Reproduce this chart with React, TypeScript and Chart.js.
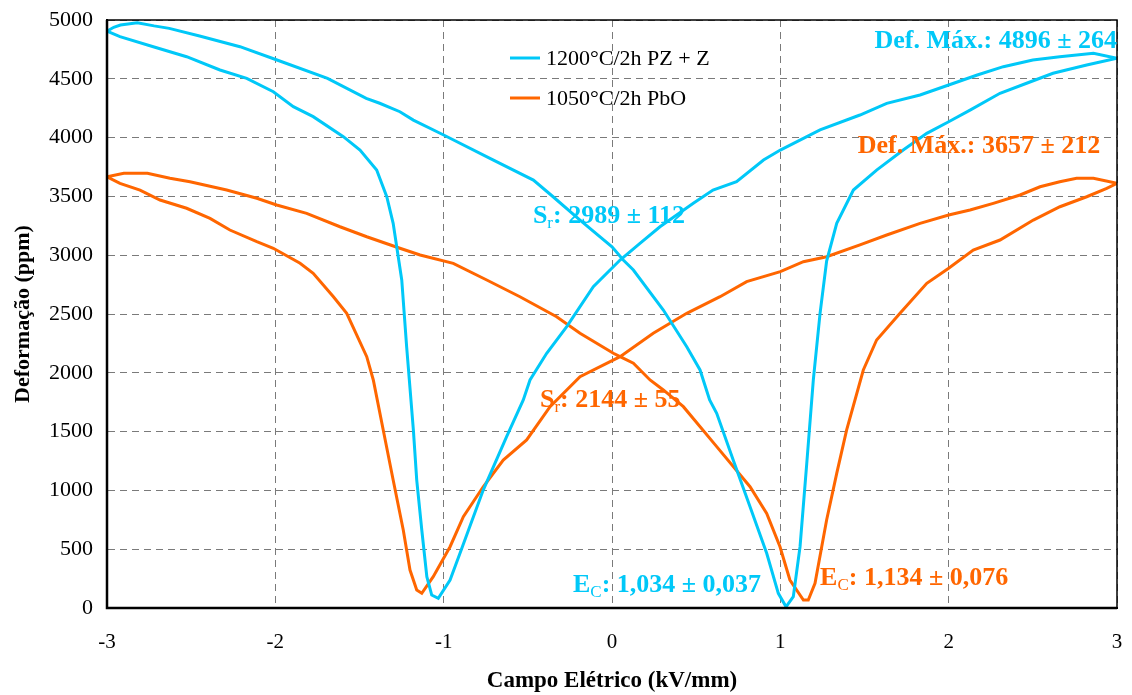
import React, { useEffect, useRef } from 'react';
import { Chart, registerables } from 'chart.js';

Chart.register(...registerables);

const seriesLabels = ['1200°C/2h PZ + Z', '1050°C/2h PbO'];

// 1200°C/2h PZ + Z butterfly loop (E in kV/mm, strain in ppm)
const blueE = [
  -3.0, -2.96, -2.92, -2.82, -2.72, -2.63, -2.45, -2.21, -1.99, -1.69, -1.46, -1.38, -1.26, -1.18, -1.0,
  -0.725, -0.467, -0.35, -0.19, 0.0, 0.067, 0.127, 0.305, 0.444, 0.523, 0.58, 0.622, 0.72, 0.82, 0.919,
  0.988, 1.034, 1.077, 1.117, 1.157, 1.196, 1.236, 1.275, 1.335, 1.434, 1.572, 1.73, 1.87, 2.0, 2.127,
  2.305, 2.463, 2.62, 2.82, 3.0,
  2.86, 2.66, 2.5, 2.325, 2.17, 2.0, 1.83, 1.632, 1.473, 1.236, 1.0, 0.9, 0.74, 0.6, 0.483, 0.285, 0.166,
  0.048, -0.111, -0.269, -0.388, -0.487, -0.527, -0.626, -0.765, -0.903, -0.962, -1.032, -1.071, -1.1,
  -1.13, -1.16, -1.18, -1.204, -1.22, -1.249, -1.3, -1.338, -1.398, -1.497, -1.596, -1.775, -1.893,
  -2.012, -2.17, -2.329, -2.527, -2.725, -2.923, -3.0,
];
const blueS = [
  4905, 4938, 4957, 4977, 4950, 4929, 4864, 4773, 4660, 4504, 4334, 4292, 4220, 4149, 4022,
  3824, 3639, 3497, 3299, 3072, 2959, 2874, 2534, 2222, 2024, 1769, 1655, 1258, 861, 465,
  125, 10, 96, 521, 1230, 1939, 2506, 2950, 3271, 3554, 3724, 3894, 4036, 4135, 4234,
  4377, 4462, 4547, 4617, 4674,
  4717, 4688, 4660, 4603, 4532, 4447, 4362, 4291, 4192, 4065, 3894, 3809, 3625, 3554, 3441, 3242, 3101,
  2959, 2732, 2392, 2166, 1939, 1769, 1457, 1003, 465, 238, 82, 110, 266,
  663, 1088, 1514, 1939, 2222, 2789, 3271, 3497, 3724, 3894, 4008, 4178, 4263,
  4390, 4504, 4575, 4688, 4773, 4858, 4905,
];

// 1050°C/2h PbO butterfly loop
const orangeE = [
  -3.0, -2.9, -2.76, -2.626, -2.507, -2.289, -2.11, -1.992, -1.814, -1.616, -1.457, -1.26, -1.14, -0.943,
  -0.744, -0.547, -0.329, -0.19, 0.008, 0.048, 0.127, 0.226, 0.305, 0.424, 0.622, 0.82, 0.919, 0.998,
  1.057, 1.137, 1.166, 1.206, 1.275, 1.335, 1.394, 1.493, 1.572, 1.711, 1.87, 2.0, 2.146, 2.305, 2.503,
  2.661, 2.82, 2.939, 3.0,
  2.86, 2.76, 2.66, 2.543, 2.424, 2.265, 2.127, 2.0, 1.83, 1.632, 1.473, 1.275, 1.137, 1.0, 0.8, 0.642,
  0.444, 0.245, 0.048, -0.19, -0.368, -0.507, -0.646, -0.765, -0.883, -0.962, -1.062, -1.13, -1.16, -1.2,
  -1.24, -1.3, -1.359, -1.418, -1.457, -1.576, -1.655, -1.775, -1.853, -2.012, -2.11, -2.27, -2.388,
  -2.527, -2.685, -2.804, -2.923, -3.0,
];
const orangeS = [
  3667, 3696, 3696, 3654, 3625, 3554, 3484, 3427, 3356, 3242, 3157, 3059, 3002, 2931,
  2789, 2647, 2477, 2336, 2166, 2137, 2081, 1939, 1854, 1712, 1372, 1031, 805, 521,
  238, 68, 68, 210, 748, 1145, 1514, 2024, 2279, 2506, 2761, 2889, 3044, 3129, 3299,
  3412, 3497, 3568, 3611,
  3654, 3654, 3625, 3582, 3512, 3441, 3384, 3342, 3271, 3172, 3087, 2987, 2945, 2860, 2775, 2647,
  2506, 2336, 2137, 1967, 1712, 1429, 1258, 1031, 776, 521, 266, 125, 153, 323,
  663, 1088, 1514, 1939, 2137, 2506, 2647, 2846, 2931, 3059, 3115, 3214, 3313,
  3399, 3469, 3554, 3611, 3667,
];

const BLUE = '#00c8f8';
const ORANGE = '#ff6600';
const SERIF = '"Liberation Serif", "Times New Roman", serif';

type Note = { main: string; sub: string; rest: string; x: number; y: number; align: 'left' | 'right'; color: string };

const notes: Note[] = [
  { main: 'Def. Máx.: 4896 ± 264', sub: '', rest: '', x: 3.0, y: 4762, align: 'right', color: BLUE },
  { main: 'Def. Máx.: 3657 ± 212', sub: '', rest: '', x: 2.9, y: 3869, align: 'right', color: ORANGE },
  { main: 'S', sub: 'r', rest: ': 2989 ± 112', x: -0.47, y: 3274, align: 'left', color: BLUE },
  { main: 'S', sub: 'r', rest: ': 2144 ± 55', x: -0.428, y: 1709, align: 'left', color: ORANGE },
  { main: 'E', sub: 'C', rest: ': 1,034 ± 0,037', x: -0.232, y: 136, align: 'left', color: BLUE },
  { main: 'E', sub: 'C', rest: ': 1,134 ± 0,076', x: 1.236, y: 196, align: 'left', color: ORANGE },
];

const toPoints = (xs: number[], ys: number[]) => xs.map((x, i) => ({ x, y: ys[i] }));

const decorPlugin = {
  id: 'decor',
  afterDatasetsDraw(chart: any) {
    const { ctx, chartArea, scales } = chart;
    const xs = scales.x;
    const ys = scales.y;
    ctx.save();
    // frame
    ctx.strokeStyle = '#000';
    ctx.lineWidth = 1.5;
    ctx.strokeRect(chartArea.left, chartArea.top, chartArea.right - chartArea.left, chartArea.bottom - chartArea.top);
    ctx.lineWidth = 2.5;
    ctx.beginPath();
    ctx.moveTo(chartArea.left, chartArea.top);
    ctx.lineTo(chartArea.left, chartArea.bottom);
    ctx.lineTo(chartArea.right, chartArea.bottom);
    ctx.stroke();

    // annotations
    const bigFont = `bold 26px ${SERIF}`;
    const subFont = `17px ${SERIF}`;
    ctx.textBaseline = 'alphabetic';
    notes.forEach((n) => {
      ctx.font = bigFont;
      const wMain = ctx.measureText(n.main).width;
      const wRest = ctx.measureText(n.rest).width;
      ctx.font = subFont;
      const wSub = n.sub ? ctx.measureText(n.sub).width : 0;
      const total = wMain + wSub + wRest;
      let px = xs.getPixelForValue(n.x);
      const py = ys.getPixelForValue(n.y);
      if (n.align === 'right') px -= total;
      ctx.fillStyle = n.color;
      ctx.textAlign = 'left';
      ctx.font = bigFont;
      ctx.fillText(n.main, px, py);
      if (n.sub) {
        ctx.font = subFont;
        ctx.fillText(n.sub, px + wMain, py + 5);
      }
      ctx.font = bigFont;
      ctx.fillText(n.rest, px + wMain + wSub, py);
    });

    // legend
    const colors = [BLUE, ORANGE];
    const lx = chartArea.left + 403;
    const ly0 = chartArea.top + 38;
    ctx.font = `22px ${SERIF}`;
    ctx.textBaseline = 'middle';
    seriesLabels.forEach((lab, i) => {
      const y = ly0 + i * 40;
      ctx.strokeStyle = colors[i];
      ctx.lineWidth = 3;
      ctx.beginPath();
      ctx.moveTo(lx, y);
      ctx.lineTo(lx + 30, y);
      ctx.stroke();
      ctx.fillStyle = '#000';
      ctx.fillText(lab, lx + 36, y + 1);
    });
    ctx.restore();
  },
};

export default function App() {
  const ref = useRef<HTMLCanvasElement | null>(null);
  useEffect(() => {
    document.body.style.margin = '0';
    const canvas = ref.current;
    if (!canvas) return;
    const chart = new Chart(canvas, {
      type: 'scatter',
      data: {
        datasets: [
          {
            label: seriesLabels[0],
            data: toPoints(blueE, blueS),
            showLine: true,
            borderColor: BLUE,
            backgroundColor: BLUE,
            borderWidth: 3,
            pointRadius: 0,
            tension: 0,
          },
          {
            label: seriesLabels[1],
            data: toPoints(orangeE, orangeS),
            showLine: true,
            borderColor: ORANGE,
            backgroundColor: ORANGE,
            borderWidth: 3,
            pointRadius: 0,
            tension: 0,
          },
        ],
      },
      options: {
        responsive: false,
        animation: false,
        devicePixelRatio: 1,
        layout: { padding: { top: 20, right: 15, left: 0, bottom: 0 } },
        plugins: { legend: { display: false }, tooltip: { enabled: false } },
        scales: {
          x: {
            type: 'linear',
            min: -3,
            max: 3,
            afterFit: (s: any) => { s.height = 87; s.paddingLeft = 0; s.paddingRight = 0; },
            ticks: {
              stepSize: 1,
              color: '#000',
              padding: 22,
              font: { family: SERIF, size: 21 },
              callback: (v: any) => String(v),
            },
            grid: { color: '#7a7a7a', lineWidth: 1, drawTicks: false },
            border: { display: true, color: '#000', width: 2, dash: [7, 5] },
            title: {
              display: true,
              text: 'Campo Elétrico (kV/mm)',
              color: '#000',
              font: { family: SERIF, size: 23, weight: 'bold' },
              padding: { top: -3, bottom: 0 },
            },
          },
          y: {
            type: 'linear',
            min: 0,
            max: 5000,
            afterFit: (s: any) => { s.width = 107; s.paddingTop = 0; s.paddingBottom = 0; },
            ticks: {
              stepSize: 500,
              color: '#000',
              padding: 14,
              font: { family: SERIF, size: 22 },
              callback: (v: any) => String(v),
            },
            grid: { color: '#7a7a7a', lineWidth: 1, drawTicks: false },
            border: { display: true, color: '#000', width: 2, dash: [7, 5] },
            title: {
              display: true,
              text: 'Deformação (ppm)',
              color: '#000',
              font: { family: SERIF, size: 22, weight: 'bold' },
              padding: { top: 10, bottom: 2 },
            },
          },
        },
      },
      plugins: [decorPlugin],
    } as any);
    return () => chart.destroy();
  }, []);
  return (
    <div style={{ position: 'absolute', left: 0, top: 0, width: 1132, height: 695 }}>
      <canvas ref={ref} width={1132} height={695} style={{ width: 1132, height: 695 }} />
    </div>
  );
}
